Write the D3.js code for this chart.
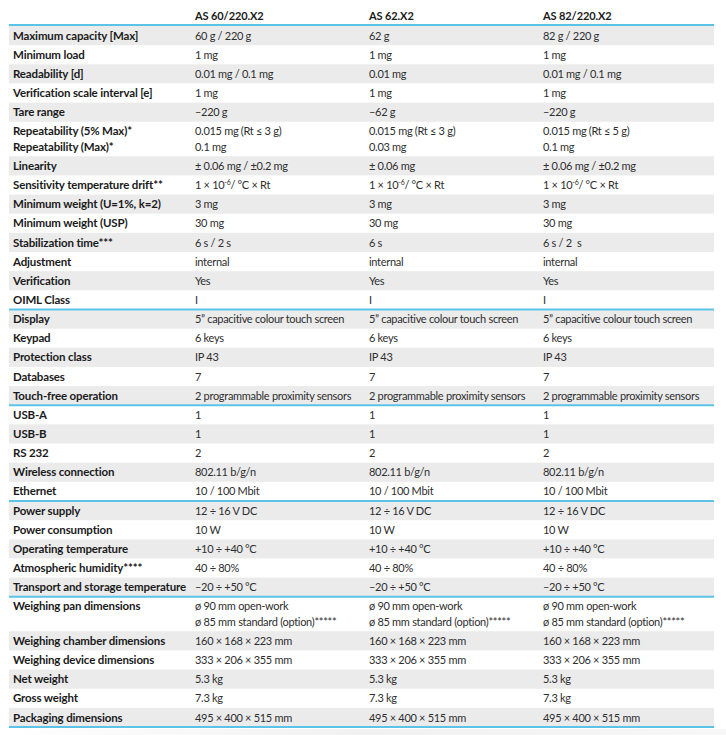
<!DOCTYPE html>
<html>
<head>
<meta charset="utf-8">
<script src="https://cdn.jsdelivr.net/npm/d3@7"></script>
<style>
  body { margin: 0; background: #fff; }
  text { font-family: Lato, "Open Sans", sans-serif; }
</style>
</head>
<body>
<div id="chart"></div>
<script>
// table content
var models = ["AS 60/220.X2", "AS 62.X2", "AS 82/220.X2"];

var specs = [
  "Maximum capacity [Max]", "Minimum load", "Readability [d]", "Verification scale interval [e]",
  "Tare range", "Repeatability (5% Max)*\nRepeatability (Max)*", "Linearity",
  "Sensitivity temperature drift**", "Minimum weight (U=1%, k=2)", "Minimum weight (USP)",
  "Stabilization time***", "Adjustment", "Verification", "OIML Class",
  "Display", "Keypad", "Protection class", "Databases", "Touch-free operation",
  "USB-A", "USB-B", "RS 232", "Wireless connection", "Ethernet",
  "Power supply", "Power consumption", "Operating temperature", "Atmospheric humidity****",
  "Transport and storage temperature",
  "Weighing pan dimensions", "Weighing chamber dimensions", "Weighing device dimensions",
  "Net weight", "Gross weight", "Packaging dimensions"
];

var as60 = [
  "60 g / 220 g", "1 mg", "0.01 mg / 0.1 mg", "1 mg", "–220 g", "0.015 mg (Rt ≤ 3 g)\n0.1 mg",
  "± 0.06 mg / ±0.2 mg", "1 × 10^-6/ °C × Rt", "3 mg", "30 mg", "6 s / 2 s", "internal", "Yes", "I",
  "5” capacitive colour touch screen", "6 keys", "IP 43", "7", "2 programmable proximity sensors",
  "1", "1", "2", "802.11 b/g/n", "10 / 100 Mbit",
  "12 ÷ 16 V DC", "10 W", "+10 ÷ +40 °C", "40 ÷ 80%", "–20 ÷ +50 °C",
  "ø 90 mm open-work\nø 85 mm standard (option)*****", "160 × 168 × 223 mm", "333 × 206 × 355 mm",
  "5.3 kg", "7.3 kg", "495 × 400 × 515 mm"
];

var as62 = [
  "62 g", "1 mg", "0.01 mg", "1 mg", "–62 g", "0.015 mg (Rt ≤ 3 g)\n0.03 mg",
  "± 0.06 mg", "1 × 10^-6/ °C × Rt", "3 mg", "30 mg", "6 s", "internal", "Yes", "I",
  "5” capacitive colour touch screen", "6 keys", "IP 43", "7", "2 programmable proximity sensors",
  "1", "1", "2", "802.11 b/g/n", "10 / 100 Mbit",
  "12 ÷ 16 V DC", "10 W", "+10 ÷ +40 °C", "40 ÷ 80%", "–20 ÷ +50 °C",
  "ø 90 mm open-work\nø 85 mm standard (option)*****", "160 × 168 × 223 mm", "333 × 206 × 355 mm",
  "5.3 kg", "7.3 kg", "495 × 400 × 515 mm"
];

var as82 = [
  "82 g / 220 g", "1 mg", "0.01 mg / 0.1 mg", "1 mg", "–220 g", "0.015 mg (Rt ≤ 5 g)\n0.1 mg",
  "± 0.06 mg / ±0.2 mg", "1 × 10^-6/ °C × Rt", "3 mg", "30 mg", "6 s / 2  s", "internal", "Yes", "I",
  "5” capacitive colour touch screen", "6 keys", "IP 43", "7", "2 programmable proximity sensors",
  "1", "1", "2", "802.11 b/g/n", "10 / 100 Mbit",
  "12 ÷ 16 V DC", "10 W", "+10 ÷ +40 °C", "40 ÷ 80%", "–20 ÷ +50 °C",
  "ø 90 mm open-work\nø 85 mm standard (option)*****", "160 × 168 × 223 mm", "333 × 206 × 355 mm",
  "5.3 kg", "7.3 kg", "495 × 400 × 515 mm"
];

// a blue rule is drawn under these rows
var groupEnds = ["OIML Class", "Touch-free operation", "Ethernet", "Transport and storage temperature"];

var svgWidth = 726, svgHeight = 735;
var tableLeft = 9, tableRight = 714, tableTop = 26, tableBottom = 727;
var lineGap = 15.3;

var columns = [as60, as62, as82];

// build rows, each with its height in "row units"
var rows = specs.map(function(s, i) {
  var cells = [s].concat(columns.map(function(c) { return c[i]; }));
  var lines = d3.max(cells, function(c) { return c.split("\n").length; });
  return { label: s, cells: cells, units: lines > 1 ? 1.8 : 1, index: i };
});
var acc = 0;
rows.forEach(function(r) { r.start = acc; acc += r.units; });

var y = d3.scaleLinear().domain([0, acc]).range([tableTop, tableBottom]);
var xVal = d3.scalePoint().domain(models).range([195, 543]);
var xCol = function(j) { return j === 0 ? 13 : xVal(models[j - 1]); };

var svg = d3.select("#chart").append("svg")
  .attr("width", svgWidth)
  .attr("height", svgHeight);

// faint shading under the table
var defs = svg.append("defs");
var grad = defs.append("linearGradient").attr("id", "fade").attr("x1", 0).attr("x2", 1);
grad.append("stop").attr("offset", "0%").attr("stop-color", "#ffffff");
grad.append("stop").attr("offset", "50%").attr("stop-color", "#f1f1f1");
grad.append("stop").attr("offset", "100%").attr("stop-color", "#f7f7f7");
svg.append("rect").attr("x", 0).attr("y", tableBottom + 2).attr("width", svgWidth)
  .attr("height", svgHeight - tableBottom - 2).attr("fill", "url(#fade)");

// stripes
svg.selectAll("rect.band")
  .data(rows.filter(function(r) { return r.index % 2 === 0; }))
  .enter().append("rect")
  .attr("class", "band")
  .attr("x", tableLeft)
  .attr("width", tableRight - tableLeft)
  .attr("y", function(r) { return y(r.start); })
  .attr("height", function(r) { return y(r.start + r.units) - y(r.start); })
  .attr("fill", "#ebebec");

// header
svg.selectAll("text.head")
  .data(models)
  .enter().append("text")
  .attr("class", "head")
  .attr("x", function(m) { return xVal(m); })
  .attr("y", 20)
  .attr("font-size", "11px")
  .attr("font-weight", "bold")
  .attr("letter-spacing", "-0.1px")
  .attr("fill", "#1a1a1a")
  .text(function(m) { return m; });

// blue rules
var ruleYs = [tableTop - 1].concat(rows.filter(function(r) {
  return groupEnds.indexOf(r.label) >= 0;
}).map(function(r) { return y(r.start + r.units); })).concat([tableBottom]);

svg.selectAll("line.rule")
  .data(ruleYs)
  .enter().append("line")
  .attr("class", "rule")
  .attr("x1", tableLeft).attr("x2", tableRight)
  .attr("y1", function(d) { return d; }).attr("y2", function(d) { return d; })
  .attr("stroke", "#5cc3e8")
  .attr("stroke-width", 2);

// cells, "^-6" marks a superscript
function addText(sel, str) {
  var parts = str.split(/\^(-?\d+)/);
  parts.forEach(function(p, k) {
    if (p === "") return;
    var ts = sel.append("tspan").text(p);
    if (k % 2 === 1) ts.attr("font-size", "7px").attr("baseline-shift", "super");
  });
}

var rowG = svg.selectAll("g.row")
  .data(rows)
  .enter().append("g")
  .attr("class", "row")
  .attr("transform", function(r) { return "translate(0," + (y(r.start) + y(1) - y(0) - 5.5) + ")"; });

rowG.each(function(r) {
  var g = d3.select(this);
  r.cells.forEach(function(c, j) {
    c.split("\n").forEach(function(line, li) {
      var t = g.append("text")
        .attr("x", xCol(j))
        .attr("y", li * lineGap)
        .attr("font-size", j === 0 ? "11.5px" : "11px")
        .attr("letter-spacing", j === 0 ? "-0.15px" : "-0.3px")
        .attr("font-weight", j === 0 ? "bold" : "normal")
        .attr("fill", j === 0 ? "#1a1a1a" : "#2e2e2e")
        .style("white-space", "pre");
      addText(t, line);
    });
  });
});
</script>
</body>
</html>
